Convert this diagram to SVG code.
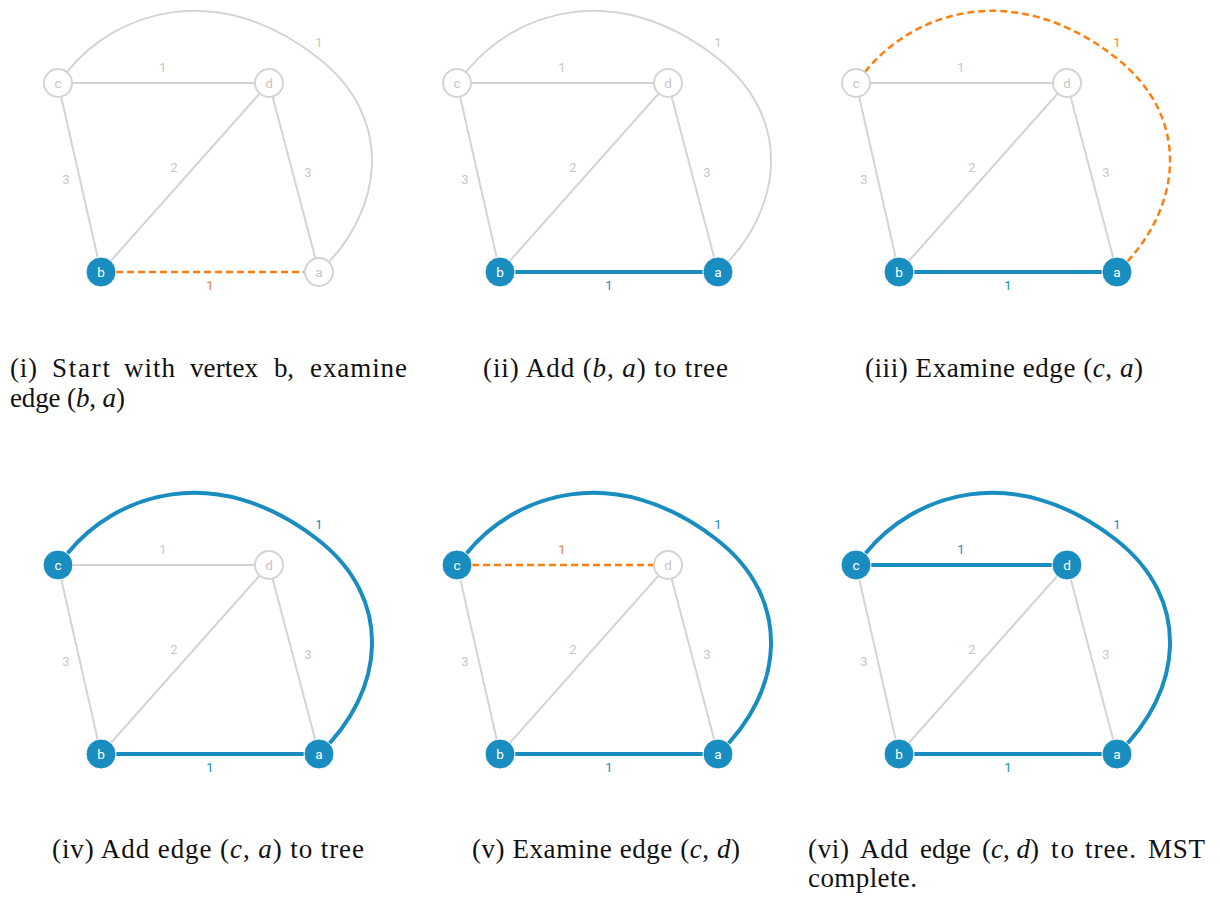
<svg xmlns="http://www.w3.org/2000/svg" width="1220" height="897" viewBox="0 0 1220 897">
<style>
.eg{stroke:#d4d4d4;stroke-width:2;fill:none}
.et{stroke:#198dbf;stroke-width:4;fill:none}
.ex{stroke:#ff7f0e;stroke-width:2.5;stroke-dasharray:7 4;fill:none}
.lbl{font-family:Roboto,"Liberation Sans",sans-serif;font-size:13px;text-anchor:middle}
.lg{fill:#c8c8c8}.lt{fill:#198dbf}.lx{fill:#ff7f0e}
.ng circle{fill:#fff;stroke:#d4d4d4;stroke-width:2}
.ng text{fill:#c8c8c8}
.nt circle{fill:#198dbf;stroke:#fff;stroke-width:1}
.nt text{fill:#fff}
.nl{font-family:Roboto,"Liberation Sans",sans-serif;font-size:13.5px;text-anchor:middle}
.cap{font-family:"Liberation Serif","Times New Roman",serif;font-size:27px;fill:#111}
.m{font-style:italic}
</style>
<defs>
<path id="curve" d="M67,72 C115,12 215,-22 317,57 C395,117 385,210 319,272"/>
</defs>

<!-- Panel i -->
<g id="panel-i">
<g id="panel-i-connectors">
<line class="eg" x1="58" y1="83" x2="269" y2="83"/>
<line class="eg" x1="58" y1="83" x2="101" y2="272"/>
<line class="eg" x1="101" y1="272" x2="269" y2="83"/>
<line class="eg" x1="269" y1="83" x2="319" y2="272"/>
<use href="#curve" class="eg"/>
<line class="ex" x1="116" y1="272" x2="304" y2="272"/>
<text class="lbl lg" x="163" y="72">1</text>
<text class="lbl lg" x="319" y="47">1</text>
<text class="lbl lg" x="66" y="184">3</text>
<text class="lbl lg" x="174" y="172">2</text>
<text class="lbl lg" x="308" y="177">3</text>
<text class="lbl lx" x="210" y="290">1</text>
</g>
<g id="panel-i-c" class="ng"><circle cx="58" cy="83" r="14"/><text class="nl" x="58" y="87.5">c</text></g>
<g id="panel-i-d" class="ng"><circle cx="269" cy="83" r="14"/><text class="nl" x="269" y="87.5">d</text></g>
<g id="panel-i-b" class="nt"><circle cx="101" cy="272" r="15"/><text class="nl" x="101" y="276.5">b</text></g>
<g id="panel-i-a" class="ng"><circle cx="319" cy="272" r="14"/><text class="nl" x="319" y="276.5">a</text></g>
</g>

<!-- Panel ii -->
<g id="panel-ii" transform="translate(399,0)">
<g id="panel-ii-connectors">
<line class="eg" x1="58" y1="83" x2="269" y2="83"/>
<line class="eg" x1="58" y1="83" x2="101" y2="272"/>
<line class="eg" x1="101" y1="272" x2="269" y2="83"/>
<line class="eg" x1="269" y1="83" x2="319" y2="272"/>
<use href="#curve" class="eg"/>
<line class="et" x1="101" y1="272" x2="319" y2="272"/>
<text class="lbl lg" x="163" y="72">1</text>
<text class="lbl lg" x="319" y="47">1</text>
<text class="lbl lg" x="66" y="184">3</text>
<text class="lbl lg" x="174" y="172">2</text>
<text class="lbl lg" x="308" y="177">3</text>
<text class="lbl lt" x="210" y="290">1</text>
</g>
<g id="panel-ii-c" class="ng"><circle cx="58" cy="83" r="14"/><text class="nl" x="58" y="87.5">c</text></g>
<g id="panel-ii-d" class="ng"><circle cx="269" cy="83" r="14"/><text class="nl" x="269" y="87.5">d</text></g>
<g id="panel-ii-b" class="nt"><circle cx="101" cy="272" r="15"/><text class="nl" x="101" y="276.5">b</text></g>
<g id="panel-ii-a" class="nt"><circle cx="319" cy="272" r="15"/><text class="nl" x="319" y="276.5">a</text></g>
</g>

<!-- Panel iii -->
<g id="panel-iii" transform="translate(798,0)">
<g id="panel-iii-connectors">
<line class="eg" x1="58" y1="83" x2="269" y2="83"/>
<line class="eg" x1="58" y1="83" x2="101" y2="272"/>
<line class="eg" x1="101" y1="272" x2="269" y2="83"/>
<line class="eg" x1="269" y1="83" x2="319" y2="272"/>
<use href="#curve" class="ex"/>
<line class="et" x1="101" y1="272" x2="319" y2="272"/>
<text class="lbl lg" x="163" y="72">1</text>
<text class="lbl lx" x="319" y="47">1</text>
<text class="lbl lg" x="66" y="184">3</text>
<text class="lbl lg" x="174" y="172">2</text>
<text class="lbl lg" x="308" y="177">3</text>
<text class="lbl lt" x="210" y="290">1</text>
</g>
<g id="panel-iii-c" class="ng"><circle cx="58" cy="83" r="14"/><text class="nl" x="58" y="87.5">c</text></g>
<g id="panel-iii-d" class="ng"><circle cx="269" cy="83" r="14"/><text class="nl" x="269" y="87.5">d</text></g>
<g id="panel-iii-b" class="nt"><circle cx="101" cy="272" r="15"/><text class="nl" x="101" y="276.5">b</text></g>
<g id="panel-iii-a" class="nt"><circle cx="319" cy="272" r="15"/><text class="nl" x="319" y="276.5">a</text></g>
</g>

<!-- Panel iv -->
<g id="panel-iv" transform="translate(0,482)">
<g id="panel-iv-connectors">
<line class="eg" x1="58" y1="83" x2="269" y2="83"/>
<line class="eg" x1="58" y1="83" x2="101" y2="272"/>
<line class="eg" x1="101" y1="272" x2="269" y2="83"/>
<line class="eg" x1="269" y1="83" x2="319" y2="272"/>
<use href="#curve" class="et"/>
<line class="et" x1="101" y1="272" x2="319" y2="272"/>
<text class="lbl lg" x="163" y="72">1</text>
<text class="lbl lt" x="319" y="47">1</text>
<text class="lbl lg" x="66" y="184">3</text>
<text class="lbl lg" x="174" y="172">2</text>
<text class="lbl lg" x="308" y="177">3</text>
<text class="lbl lt" x="210" y="290">1</text>
</g>
<g id="panel-iv-c" class="nt"><circle cx="58" cy="83" r="15"/><text class="nl" x="58" y="87.5">c</text></g>
<g id="panel-iv-d" class="ng"><circle cx="269" cy="83" r="14"/><text class="nl" x="269" y="87.5">d</text></g>
<g id="panel-iv-b" class="nt"><circle cx="101" cy="272" r="15"/><text class="nl" x="101" y="276.5">b</text></g>
<g id="panel-iv-a" class="nt"><circle cx="319" cy="272" r="15"/><text class="nl" x="319" y="276.5">a</text></g>
</g>

<!-- Panel v -->
<g id="panel-v" transform="translate(399,482)">
<g id="panel-v-connectors">
<line class="eg" x1="58" y1="83" x2="101" y2="272"/>
<line class="eg" x1="101" y1="272" x2="269" y2="83"/>
<line class="eg" x1="269" y1="83" x2="319" y2="272"/>
<line class="ex" x1="73" y1="83" x2="254" y2="83"/>
<use href="#curve" class="et"/>
<line class="et" x1="101" y1="272" x2="319" y2="272"/>
<text class="lbl lx" x="163" y="72">1</text>
<text class="lbl lt" x="319" y="47">1</text>
<text class="lbl lg" x="66" y="184">3</text>
<text class="lbl lg" x="174" y="172">2</text>
<text class="lbl lg" x="308" y="177">3</text>
<text class="lbl lt" x="210" y="290">1</text>
</g>
<g id="panel-v-c" class="nt"><circle cx="58" cy="83" r="15"/><text class="nl" x="58" y="87.5">c</text></g>
<g id="panel-v-d" class="ng"><circle cx="269" cy="83" r="14"/><text class="nl" x="269" y="87.5">d</text></g>
<g id="panel-v-b" class="nt"><circle cx="101" cy="272" r="15"/><text class="nl" x="101" y="276.5">b</text></g>
<g id="panel-v-a" class="nt"><circle cx="319" cy="272" r="15"/><text class="nl" x="319" y="276.5">a</text></g>
</g>

<!-- Panel vi -->
<g id="panel-vi" transform="translate(798,482)">
<g id="panel-vi-connectors">
<line class="eg" x1="58" y1="83" x2="101" y2="272"/>
<line class="eg" x1="101" y1="272" x2="269" y2="83"/>
<line class="eg" x1="269" y1="83" x2="319" y2="272"/>
<line class="et" x1="58" y1="83" x2="269" y2="83"/>
<use href="#curve" class="et"/>
<line class="et" x1="101" y1="272" x2="319" y2="272"/>
<text class="lbl lt" x="163" y="72">1</text>
<text class="lbl lt" x="319" y="47">1</text>
<text class="lbl lg" x="66" y="184">3</text>
<text class="lbl lg" x="174" y="172">2</text>
<text class="lbl lg" x="308" y="177">3</text>
<text class="lbl lt" x="210" y="290">1</text>
</g>
<g id="panel-vi-c" class="nt"><circle cx="58" cy="83" r="15"/><text class="nl" x="58" y="87.5">c</text></g>
<g id="panel-vi-d" class="nt"><circle cx="269" cy="83" r="15"/><text class="nl" x="269" y="87.5">d</text></g>
<g id="panel-vi-b" class="nt"><circle cx="101" cy="272" r="15"/><text class="nl" x="101" y="276.5">b</text></g>
<g id="panel-vi-a" class="nt"><circle cx="319" cy="272" r="15"/><text class="nl" x="319" y="276.5">a</text></g>
</g>

<!-- Captions -->
<g id="captions">
<text class="cap" y="377"><tspan x="10" textLength="27">(i)</tspan><tspan x="52" textLength="58">Start</tspan><tspan x="124" textLength="51">with</tspan><tspan x="190" textLength="68">vertex</tspan><tspan x="274" textLength="20">b,</tspan><tspan x="310" textLength="97">examine</tspan></text>
<text class="cap" x="10" y="407" textLength="115">edge (<tspan class="m">b</tspan>, <tspan class="m">a</tspan>)</text>
<text class="cap" x="483" y="377" textLength="245">(ii) Add (<tspan class="m">b</tspan>, <tspan class="m">a</tspan>) to tree</text>
<text class="cap" x="865" y="377" textLength="278">(iii) Examine edge (<tspan class="m">c</tspan>, <tspan class="m">a</tspan>)</text>
<text class="cap" x="52" y="858" textLength="312">(iv) Add edge (<tspan class="m">c</tspan>, <tspan class="m">a</tspan>) to tree</text>
<text class="cap" x="472" y="858" textLength="268">(v) Examine edge (<tspan class="m">c</tspan>, <tspan class="m">d</tspan>)</text>
<text class="cap" y="858"><tspan x="808" textLength="41">(vi)</tspan><tspan x="860" textLength="48">Add</tspan><tspan x="920" textLength="51">edge</tspan><tspan x="982" textLength="57">(<tspan class="m">c</tspan>, <tspan class="m">d</tspan>)</tspan><tspan x="1051" textLength="23">to</tspan><tspan x="1085" textLength="51">tree.</tspan><tspan x="1148" textLength="57">MST</tspan></text>
<text class="cap" x="808" y="887" textLength="109">complete.</text>
</g>
</svg>
